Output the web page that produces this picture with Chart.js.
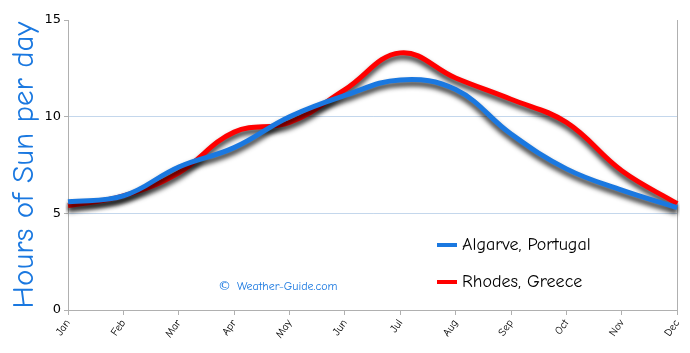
<!DOCTYPE html>
<html lang="en">
  <head>
    <meta charset="UTF-8" />
    <title>Hours of Sun per day</title>
    <script src="https://cdn.jsdelivr.net/npm/chart.js@4.4.0/dist/chart.umd.min.js"></script>
    <style>
      html, body { margin: 0; padding: 0; background: #fff; }
      #wrap { width: 690px; height: 353px; position: relative; }
    </style>
  </head>
  <body>
    <div id="wrap"><canvas id="sun-chart"></canvas></div>

    <script>
      const months = ["Jan", "Feb", "Mar", "Apr", "May", "Jun", "Jul", "Aug", "Sep", "Oct", "Nov", "Dec"];
      const algarve = [5.6, 5.9, 7.4, 8.4, 10.0, 11.1, 11.9, 11.4, 9.1, 7.3, 6.2, 5.3];
      const rhodes = [5.4, 5.9, 7.1, 9.2, 9.7, 11.4, 13.3, 12.0, 10.9, 9.7, 7.2, 5.5];
      const yTicks = [0, 5, 10, 15];

      const blue = "#1a78e0";
      const red = "#ff0000";
      const handFont = "'Comic Sans MS', 'Comic Neue', Lato, sans-serif";

      // soft dark shadow under each line
      const shadowPlugin = {
        id: "lineShadow",
        beforeDatasetDraw(chart) {
          const ctx = chart.ctx;
          ctx.save();
          ctx.shadowColor = "rgba(0,0,0,0.85)";
          ctx.shadowBlur = 5;
          ctx.shadowOffsetX = 0;
          ctx.shadowOffsetY = 4;
        },
        afterDatasetDraw(chart) {
          chart.ctx.restore();
        },
      };

      // legend inside the plot and the site credit
      const overlayPlugin = {
        id: "overlay",
        afterDraw(chart) {
          const ctx = chart.ctx;
          ctx.save();
          const items = [
            { label: "Algarve, Portugal", color: blue, y: 245 },
            { label: "Rhodes, Greece", color: red, y: 282 },
          ];
          items.forEach((it) => {
            ctx.strokeStyle = it.color;
            ctx.lineWidth = 4;
            ctx.beginPath();
            ctx.moveTo(437, it.y);
            ctx.lineTo(457, it.y);
            ctx.stroke();
            ctx.fillStyle = "#000";
            ctx.font = "18px " + handFont;
            ctx.textBaseline = "middle";
            ctx.fillText(it.label, 462, it.y);
          });
          ctx.fillStyle = blue;
          ctx.textBaseline = "middle";
          ctx.font = "13px 'DejaVu Sans', sans-serif";
          ctx.fillText("\u00A9", 218, 287);
          ctx.font = "12px " + handFont;
          ctx.fillText("Weather-Guide.com", 237, 287);
          ctx.restore();
        },
      };

      const ctx = document.getElementById("sun-chart").getContext("2d");
      new Chart(ctx, {
        type: "line",
        data: {
          labels: months,
          datasets: [
            {
              label: "Algarve, Portugal",
              data: algarve,
              borderColor: blue,
              borderWidth: 5,
              pointRadius: 0,
              tension: 0.4,
              fill: false,
            },
            {
              label: "Rhodes, Greece",
              data: rhodes,
              borderColor: red,
              borderWidth: 5,
              pointRadius: 0,
              tension: 0.4,
              fill: false,
            },
          ],
        },
        options: {
          responsive: true,
          maintainAspectRatio: false,
          animation: false,
          layout: { padding: { top: 20, right: 12, bottom: 0, left: 0 } },
          plugins: {
            legend: { display: false },
            tooltip: { enabled: false },
          },
          scales: {
            x: {
              offset: false,
              grid: {
                display: true,
                drawOnChartArea: false,
                drawTicks: true,
                tickLength: 5,
                color: "#b0b0b0",
              },
              border: { color: "#b0b0b0" },
              ticks: {
                maxRotation: 55,
                minRotation: 55,
                color: "#000",
                font: { size: 11, family: handFont },
                padding: 2,
              },
              afterFit(scale) {
                scale.height = 43;
              },
            },
            y: {
              min: 0,
              max: 15,
              afterBuildTicks(scale) {
                scale.ticks = yTicks.map((v) => ({ value: v }));
              },
              grid: {
                color: (c) => (c.tick && (c.tick.value === 5 || c.tick.value === 10) ? "#c4d7ec" : "rgba(0,0,0,0)"),
                drawTicks: true,
                tickLength: 4,
                tickColor: "#b0b0b0",
              },
              border: { color: "#b0b0b0" },
              ticks: {
                color: "#000",
                font: { size: 13, family: "Verdana, 'DejaVu Sans', sans-serif" },
                padding: 3,
              },
              title: {
                display: true,
                text: "Hours of Sun per day",
                color: blue,
                font: { size: 31, family: handFont },
                padding: { top: 6, bottom: 0 },
              },
              afterFit(scale) {
                scale.width = 68;
              },
            },
            y2: {
              position: "right",
              min: 0,
              max: 15,
              grid: { display: false },
              ticks: { display: false },
              border: { color: "#b0b0b0" },
              afterFit(scale) {
                scale.width = 0;
              },
            },
          },
        },
        plugins: [shadowPlugin, overlayPlugin],
      });
    </script>
  </body>
</html>
